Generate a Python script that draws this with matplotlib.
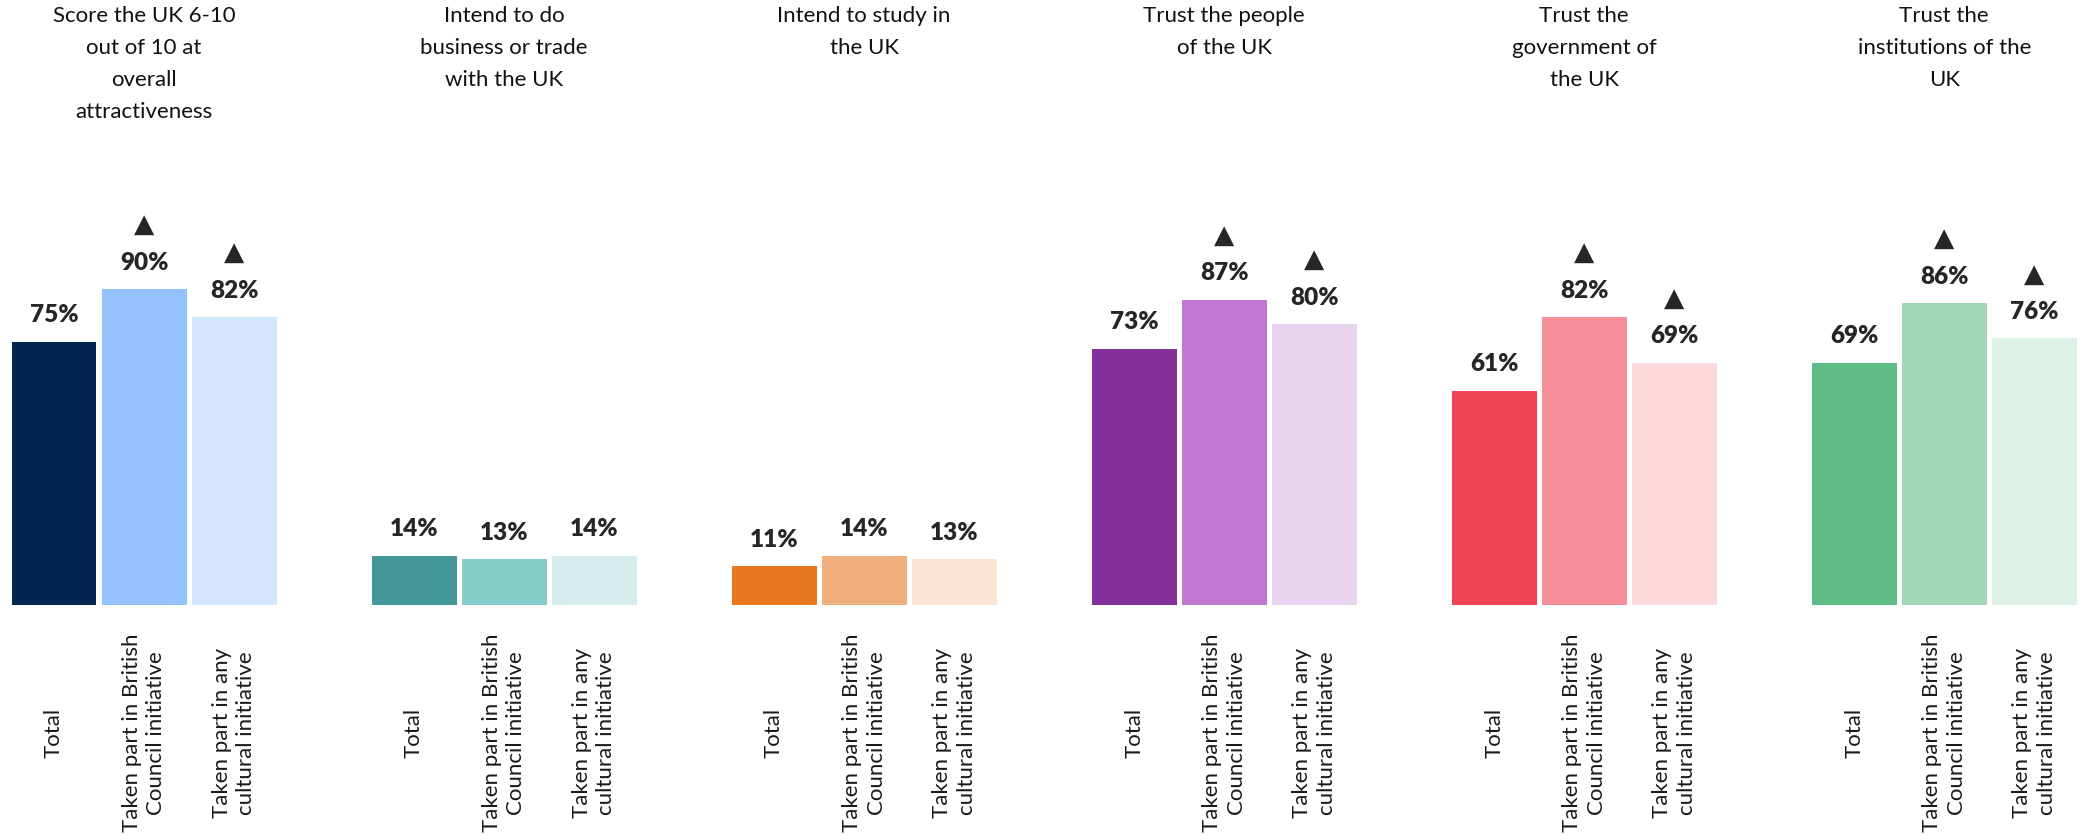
import matplotlib
matplotlib.use('Agg')
import matplotlib.pyplot as plt
import matplotlib.transforms as mtransforms

plt.rcParams['font.family'] = ['Lato', 'DejaVu Sans']

# Data
groups = ['Score the UK 6-10\nout of 10 at\noverall\nattractiveness',
          'Intend to do\nbusiness or trade\nwith the UK',
          'Intend to study in\nthe UK',
          'Trust the people\nof the UK',
          'Trust the\ngovernment of\nthe UK',
          'Trust the\ninstitutions of the\nUK']
bar_labels = ['Total', 'Taken part in British\nCouncil initiative',
              'Taken part in any\ncultural initiative']
total = [75, 14, 11, 73, 61, 69]
british_council = [90, 13, 14, 87, 82, 86]
any_cultural = [82, 14, 13, 80, 69, 76]
# significant increase markers (per group: BC, any cultural)
sig_bc = [True, False, False, True, True, True]
sig_any = [True, False, False, True, True, True]

colors = [
    ['#022552', '#94C2FC', '#D4E6FD'],
    ['#419896', '#86CCCB', '#D6EDEE'],
    ['#E87722', '#F1AF7D', '#FAE4D2'],
    ['#83309A', '#BF77D1', '#E8D4EF'],
    ['#F04355', '#F68F99', '#FCD9DD'],
    ['#5DBB84', '#A0D8B6', '#DEF1E6'],
]

fig = plt.figure(figsize=(20.82, 8.36), dpi=100)
ax = fig.add_axes([0, 0.2763, 1, 0.4199])
ax.set_xlim(-0.6, 22.53)
ax.set_ylim(0, 100)
ax.axis('off')

xlab_tr = mtransforms.blended_transform_factory(ax.transData, fig.transFigure)

for i in range(len(groups)):
    vals = [total[i], british_council[i], any_cultural[i]]
    sigs = [False, sig_bc[i], sig_any[i]]
    for j in range(3):
        x = i * 4 + j
        ax.bar(x, vals[j], width=0.944, color=colors[i][j])
        ax.annotate(f'{vals[j]}%', (x, vals[j]), xytext=(0, 19),
                    textcoords='offset points', ha='center', va='center',
                    fontsize=17.5, fontweight='heavy', color='#262626')
        if sigs[j]:
            ax.annotate('\u25B2', (x, vals[j]), xytext=(0, 46),
                        textcoords='offset points', ha='center', va='center',
                        fontsize=19, color='#262626',
                        family=['DejaVu Sans'])
        ax.text(x, 0.1232, bar_labels[j], transform=xlab_tr, rotation=90,
                ha='center', va='center', multialignment='center',
                fontsize=16, color='#1a1a1a', linespacing=1.3)
    ax.text(i * 4 + 1, 0.993, groups[i], transform=xlab_tr, ha='center',
            va='top', multialignment='center', fontsize=16, color='#111111',
            linespacing=1.75)

fig.savefig('out.png', dpi=100)
